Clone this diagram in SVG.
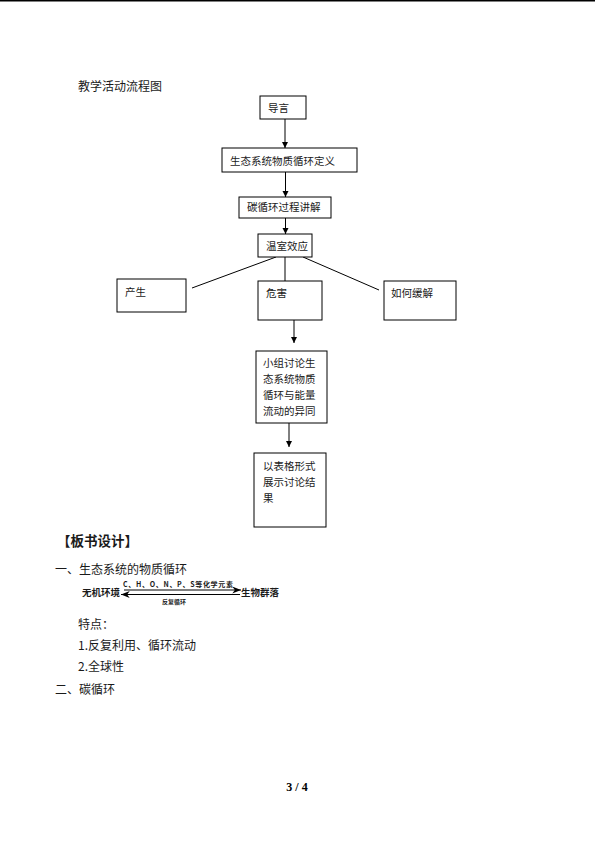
<svg xmlns="http://www.w3.org/2000/svg" width="595" height="841" viewBox="0 0 595 841">
<style>
.t{font-family:"Noto Sans CJK SC","Liberation Serif",sans-serif;fill:#1a1a1a}
.s{font-size:10.5px}
.m{font-size:12px}
.b{font-weight:bold}
.box{fill:#fff;stroke:#000;stroke-width:1}
.ln{stroke:#000;stroke-width:1;fill:none}
</style>
<defs>
<marker id="ah" viewBox="0 0 8 8" refX="8" refY="4" markerWidth="6" markerHeight="7" markerUnits="userSpaceOnUse" orient="auto">
<path d="M0,0 L8,4 L0,8 z" fill="#000"/>
</marker>
<marker id="bh" viewBox="0 0 10 8" refX="10" refY="4" markerWidth="10" markerHeight="7" markerUnits="userSpaceOnUse" orient="auto">
<path d="M0,0 L10,4 L0,8 L3,4 z" fill="#000"/>
</marker>
</defs>
<rect width="595" height="841" fill="#fff"/>
<line x1="0" y1="0.75" x2="595" y2="0.75" stroke="#000" stroke-width="1.5"/>
<text class="t m" x="78" y="91">教学活动流程图</text>
<g id="connectors">
<line class="ln" x1="285" y1="119" x2="285" y2="148" marker-end="url(#ah)"/>
<line class="ln" x1="285.5" y1="172" x2="285.5" y2="197" marker-end="url(#ah)"/>
<line class="ln" x1="285.5" y1="218" x2="285.5" y2="234" marker-end="url(#ah)"/>
<line class="ln" x1="276" y1="257" x2="192" y2="288"/>
<line class="ln" x1="285" y1="257" x2="285" y2="281"/>
<line class="ln" x1="303" y1="257" x2="379" y2="290"/>
<line class="ln" x1="294" y1="320" x2="294" y2="343" marker-end="url(#ah)"/>
<line class="ln" x1="289" y1="423" x2="289" y2="447" marker-end="url(#ah)"/>
</g>
<g id="n-daoyan"><rect class="box" x="260" y="96" width="46" height="23"/><text class="t s" x="268" y="112">导言</text></g>
<g id="n-dingyi"><rect class="box" x="222" y="148" width="135" height="24"/><text class="t s" x="230" y="165">生态系统物质循环定义</text></g>
<g id="n-tanxunhuan"><rect class="box" x="239" y="197" width="92" height="21"/><text class="t s" x="247" y="211">碳循环过程讲解</text></g>
<g id="n-wenshi"><rect class="box" x="258" y="234" width="54" height="23"/><text class="t s" x="266" y="250">温室效应</text></g>
<g id="n-chansheng"><rect class="box" x="117" y="279" width="69" height="33"/><text class="t s" x="125" y="296">产生</text></g>
<g id="n-weihai"><rect class="box" x="258" y="281" width="64" height="39"/><text class="t s" x="266" y="297">危害</text></g>
<g id="n-huanjie"><rect class="box" x="384" y="281" width="72" height="39"/><text class="t s" x="391" y="297">如何缓解</text></g>
<g id="n-taolun"><rect class="box" x="256" y="351" width="71" height="72"/>
<text class="t s" x="263" y="367">小组讨论生</text>
<text class="t s" x="263" y="383">态系统物质</text>
<text class="t s" x="263" y="399">循环与能量</text>
<text class="t s" x="263" y="415">流动的异同</text></g>
<g id="n-biaoge"><rect class="box" x="254" y="453" width="72" height="74"/>
<text class="t s" x="263" y="470">以表格形式</text>
<text class="t s" x="263" y="486">展示讨论结</text>
<text class="t s" x="263" y="502">果</text></g>
<text class="t b" x="57" y="546" font-size="13.5">【板书设计】</text>
<text class="t m" x="55" y="574">一、生态系统的物质循环</text>
<g id="cycle">
<text class="t b" x="82" y="596" font-size="9.5">无机环境</text>
<text class="t b" x="241" y="596" font-size="9.5">生物群落</text>
<line class="ln" x1="124" y1="590" x2="241" y2="590" stroke-width="2" marker-end="url(#bh)"/>
<line class="ln" x1="240" y1="594.5" x2="121" y2="594.5" stroke-width="2" marker-end="url(#bh)"/>
<text class="t b" x="123" y="587" font-size="7" textLength="110" lengthAdjust="spacing">C、H、O、N、P、S等化学元素</text>
<text class="t b" x="162" y="604" font-size="6">反复循环</text>
</g>
<text class="t m" x="78" y="629">特点：</text>
<text class="t m" x="78" y="650">1.反复利用、循环流动</text>
<text class="t m" x="78" y="671">2.全球性</text>
<text class="t m" x="55" y="694">二、碳循环</text>
<text x="297" y="791" font-family="Liberation Serif,serif" font-size="12" font-weight="bold" text-anchor="middle" fill="#000">3 / 4</text>
</svg>
